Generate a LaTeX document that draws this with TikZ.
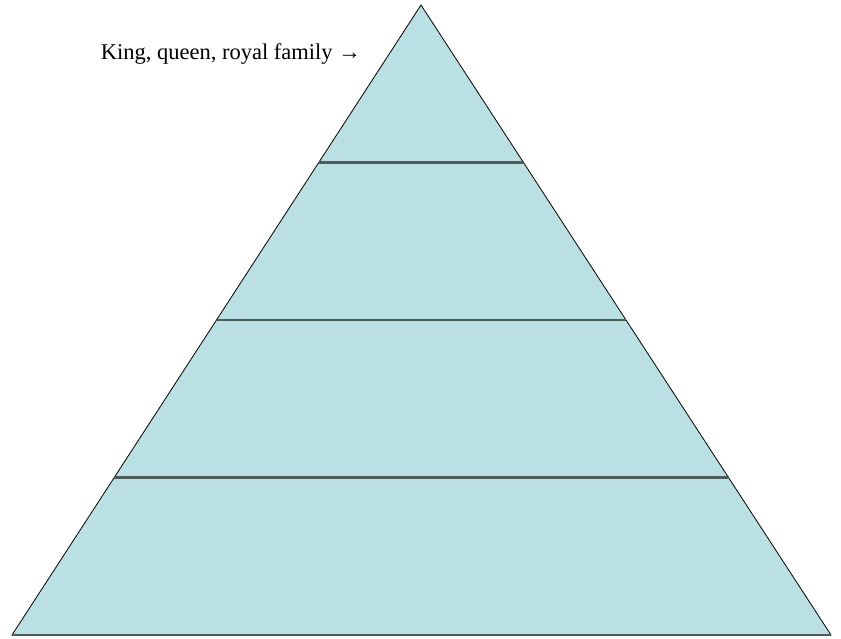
\documentclass[tikz,border=0pt]{standalone}
\usepackage{fontspec}
\setmainfont{Liberation Serif}
\usepackage{tikz}
\usetikzlibrary{calc}
\definecolor{pyrfill}{HTML}{BBE0E3}
\definecolor{tierline}{HTML}{4D5C5C}
\tikzset{
  pyramid/.style={draw=black, line width=0.8pt, fill=pyrfill, line join=miter},
  tier/.style={draw=tierline, line width=2.2pt},
  caption/.style={font=\fontsize{22.5}{26}\selectfont, inner sep=0pt},
}
\begin{document}
\begin{tikzpicture}[x=1pt, y=-1pt]
  \useasboundingbox (0,0) rectangle (841,639);

  % corners of the pyramid
  \coordinate (apex) at (421,5);
  \coordinate (bl)   at (12,635);
  \coordinate (br)   at (831,635);

  \filldraw[pyramid] (apex) -- (bl) -- (br) -- cycle;
  \draw[tier, line width=1.6pt] (bl) -- (br);

  % tier borders
  \foreach \t/\n in {0.25/a, 0.5/b, 0.75/c} {
    \coordinate (l\n) at ($(apex)!\t!(bl)$);
    \coordinate (r\n) at ($(apex)!\t!(br)$);
    \draw[tier] (l\n) -- (r\n);
  }

  % top tier label
  \node[caption, anchor=base east] (royal) at (361,60) {King, queen, royal family →};
\end{tikzpicture}
\end{document}
